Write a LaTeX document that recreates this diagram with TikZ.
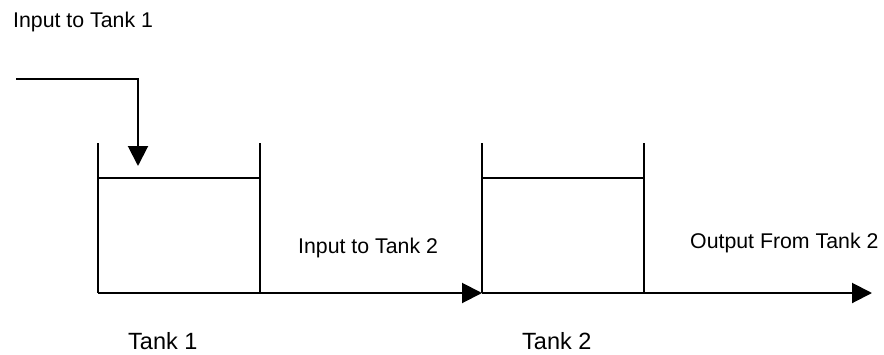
\documentclass[tikz,border=0pt]{standalone}
\usepackage{fontspec}
\setmainfont{Liberation Sans}
\usetikzlibrary{arrows.meta,calc}
\tikzset{
  >={Triangle[length=20pt,width=20pt]},
  pipe/.style={line width=2pt},
  tank/.style={minimum width=162pt,minimum height=150pt,inner sep=0pt,outer sep=0pt},
  flowlabel/.style={anchor=base west,inner sep=0pt,font=\fontsize{21.3}{25}\selectfont},
  tanklabel/.style={flowlabel,font=\fontsize{23.5}{28}\selectfont},
}

\begin{document}
\begin{tikzpicture}[x=1pt,y=-1pt]
\useasboundingbox (0,0) rectangle (884,354);

% ===== Tanks (only the walls and bottom are drawn) =====
\node[tank] (tank1) at (179,218) {};
\node[tank] (tank2) at (563,218) {};
\foreach \t in {tank1,tank2} {
  \draw[pipe] (\t.north west) -- (\t.south west);
  \draw[pipe] (\t.north east) -- (\t.south east);
  % liquid level
  \draw[pipe] ($(\t.north west)+(0,35)$) -- ($(\t.north east)+(0,35)$);
}

% ===== Flows =====
\coordinate (feed) at (16,79);
\coordinate (inlet) at (138,166);
\coordinate (drain) at (872,293);
\draw[pipe,->] (feed) -| (inlet);
\draw[pipe,->] (tank1.south west) -- (tank2.south west);
\draw[pipe,->] (tank2.south west) -- (drain);

% ===== Labels =====
\node[flowlabel] (inLabel1) at (13,27) {Input to Tank 1};
\node[flowlabel] (inLabel2) at (298,253) {Input to Tank 2};
\node[flowlabel] (outLabel) at (690,248) {Output From Tank 2};
\node[tanklabel] (tankLabel1) at (128,349) {Tank 1};
\node[tanklabel] (tankLabel2) at (522,349) {Tank 2};

\end{tikzpicture}
\end{document}
